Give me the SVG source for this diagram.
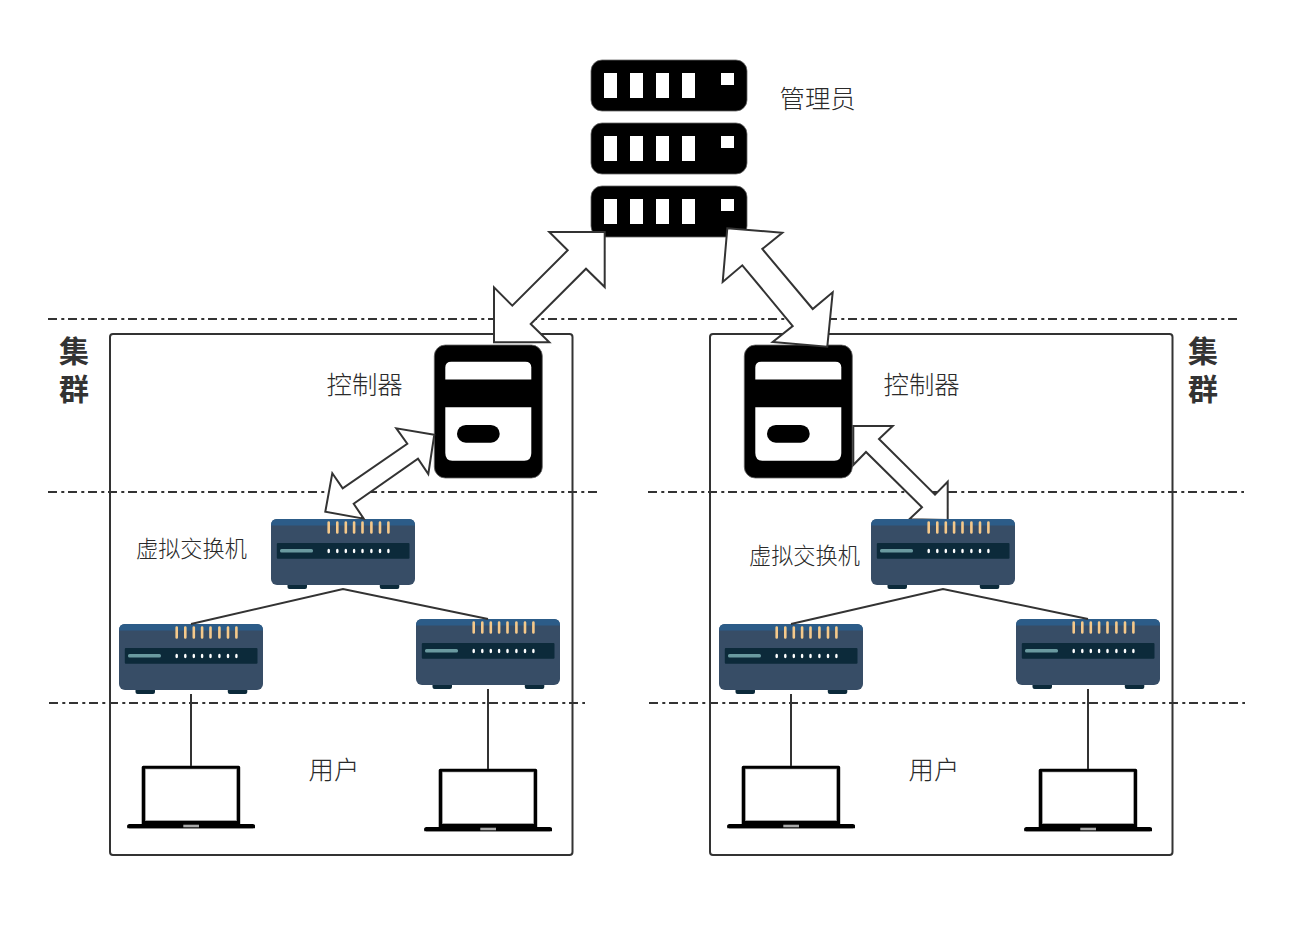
<svg xmlns="http://www.w3.org/2000/svg" width="1308" height="939" viewBox="0 0 1308 939">
<style>
text{font-family:"Noto Sans CJK SC","Liberation Sans",sans-serif;fill:#2a2a2a;font-weight:300}
.b{font-weight:700;font-size:30px;fill:#333}
.t{font-size:25.400px}
.s{font-size:22.200px}
.box{fill:none;stroke:#333;stroke-width:2}
.dash{fill:none;stroke:#333;stroke-width:2;stroke-dasharray:9 4.300 3 3.700}
.wire{fill:none;stroke:#333;stroke-width:2}
.arrow{fill:#fff;stroke:#333;stroke-width:2;stroke-linejoin:miter}
.w{fill:#fff}
.k{fill:#000;stroke:#666;stroke-width:.8}
</style>
<defs>
<g id="rack">
<rect class="k" x="0" y="0" width="156" height="51" rx="11"/>
<rect class="w" x="13" y="13" width="13" height="25"/>
<rect class="w" x="39" y="13" width="13" height="25"/>
<rect class="w" x="65" y="13" width="13" height="25"/>
<rect class="w" x="91" y="13" width="13" height="25"/>
<rect class="w" x="130" y="13" width="13" height="12"/>
</g>
<g id="ctrl">
<rect class="k" x="0" y="0" width="108" height="133" rx="11"/>
<path class="w" d="M11 34.500V22.500Q11 16.700 17 16.700H91Q97 16.700 97 22.500V34.500Z"/>
<path class="w" d="M11 62.300H97V108Q97 115.700 90 115.700H18Q11 115.700 11 108Z"/>
<rect x="22.700" y="80" width="42.700" height="17.700" rx="8.800" fill="#000"/>
</g>
<g id="sw">
<rect x="16.500" y="64" width="19.500" height="6" rx="2" fill="#0c2a3a"/>
<rect x="108.800" y="64" width="19.500" height="6" rx="2" fill="#0c2a3a"/>
<rect x="0" y="0" width="144" height="66" rx="6" fill="#374d66"/>
<path d="M0 6Q0 0 6 0H138Q144 0 144 6V6.500H0Z" fill="#2c5c88"/>
<rect x="5.800" y="24" width="132.700" height="15.700" rx="1" fill="#0c2a3a"/>
<rect x="9" y="30" width="33" height="3.400" rx="1.500" fill="#6a9aa0"/>
<g fill="#fff"><ellipse cx="57.700" cy="32" rx="1.300" ry="2.200"/><ellipse cx="66.300" cy="32" rx="1.300" ry="2.200"/><ellipse cx="74.800" cy="32" rx="1.300" ry="2.200"/><ellipse cx="83.100" cy="32" rx="1.300" ry="2.200"/><ellipse cx="91.500" cy="32" rx="1.300" ry="2.200"/><ellipse cx="100.400" cy="32" rx="1.300" ry="2.200"/><ellipse cx="109" cy="32" rx="1.300" ry="2.200"/><ellipse cx="117.400" cy="32" rx="1.300" ry="2.200"/></g>
<g stroke="#f5c98a" stroke-width="2.600" stroke-linecap="round" fill="none"><path d="M57.700 3.500V13.500M66.300 3.500V13.500M74.800 3.500V13.500M83.100 3.500V13.500M91.500 3.500V13.500M100.400 3.500V13.500M109 3.500V13.500M117.400 3.500V13.500"/></g>
</g>
<g id="laptop">
<path d="M0 59.500V1.500Q0 0 1.500 0H97Q98.500 0 98.500 1.500V59.500H113.300V62.500H-14.400V59.500Z" fill="#000"/>
<rect x="-14.400" y="58.300" width="127.700" height="4.300" rx="2.100" fill="#000"/>
<rect class="w" x="3.600" y="3.300" width="91.400" height="51.700" stroke="#999" stroke-width=".6"/>
<rect x="41.600" y="59" width="15.700" height="2.600" fill="#aaa"/>
</g>
</defs>
<g id="guides">
<path class="dash" d="M48 319H1238M48 492H597M648 492H1244M49 703H585M649 703H1245"/>
</g>
<g id="cluster-left"><rect class="box" x="110" y="334" width="462.500" height="521" rx="3"/></g>
<g id="cluster-right"><rect class="box" x="710" y="334" width="462.500" height="521" rx="3"/></g>
<g id="admin">
<use href="#rack" x="591" y="60"/><use href="#rack" x="591" y="123"/><use href="#rack" x="591" y="186"/>
</g>
<g id="controller-left"><use href="#ctrl" x="434.300" y="345"/></g>
<g id="controller-right"><use href="#ctrl" x="744.300" y="345"/></g>
<g id="switch-l-top"><use href="#sw" x="271" y="519"/></g>
<g id="switch-l-a"><use href="#sw" x="119" y="624"/></g>
<g id="switch-l-b"><use href="#sw" x="416" y="619"/></g>
<g id="switch-r-a"><use href="#sw" x="719" y="624"/></g>
<g id="switch-r-b"><use href="#sw" x="1016" y="619"/></g>
<g id="laptop-l-a"><use href="#laptop" x="141.700" y="765.700"/></g>
<g id="laptop-l-b"><use href="#laptop" x="438.700" y="768.700"/></g>
<g id="laptop-r-a"><use href="#laptop" x="741.700" y="765.700"/></g>
<g id="laptop-r-b"><use href="#laptop" x="1038.700" y="768.700"/></g>
<g id="connectors">
<path class="wire" d="M191 624L343 589L488 619M791 624L943 589L1088 619M191 694V766M488 689V769M791 694V766M1088 689V769"/>
<polygon class="arrow" points="604.700,232 549.300,232 567.700,250.300 512.300,305.700 494,287.300 494,342.300 549.300,342.300 530.700,324 586,268.700 604.700,287"/>
<polygon class="arrow" points="727.300,228.300 782.300,232.700 762.300,249 812.700,309 832.700,292.300 827.300,346.700 772.700,342 792.700,326 742.300,265.300 722.700,282"/>
<polygon class="arrow" points="434.300,434.700 396.300,428.300 407.300,443.700 342.700,488.300 332.300,473.300 325.300,511.700 363.700,518.700 353.700,503.700 418,458.700 428.300,474"/>
<polygon class="arrow" points="853.300,426 892.700,426 879,439 935,494.700 947.700,481.700 947.700,520 909.300,519.300 922,507.300 866,452 853.300,465"/>
</g>
<g id="switch-r-top"><use href="#sw" x="871" y="519"/></g>
<g id="labels">
<text class="t" x="779.500" y="108">管理员</text>
<text class="b"><tspan x="59" y="362">集</tspan><tspan x="59" y="400">群</tspan></text>
<text class="b"><tspan x="1188" y="362">集</tspan><tspan x="1188" y="400">群</tspan></text>
<text class="t" x="326.500" y="394">控制器</text>
<text class="t" x="883.500" y="394">控制器</text>
<text class="s" x="136" y="556.500">虚拟交换机</text>
<text class="s" x="749" y="563.500">虚拟交换机</text>
<text class="t" x="308.500" y="779">用户</text>
<text class="t" x="908.500" y="779">用户</text>
</g>
</svg>
